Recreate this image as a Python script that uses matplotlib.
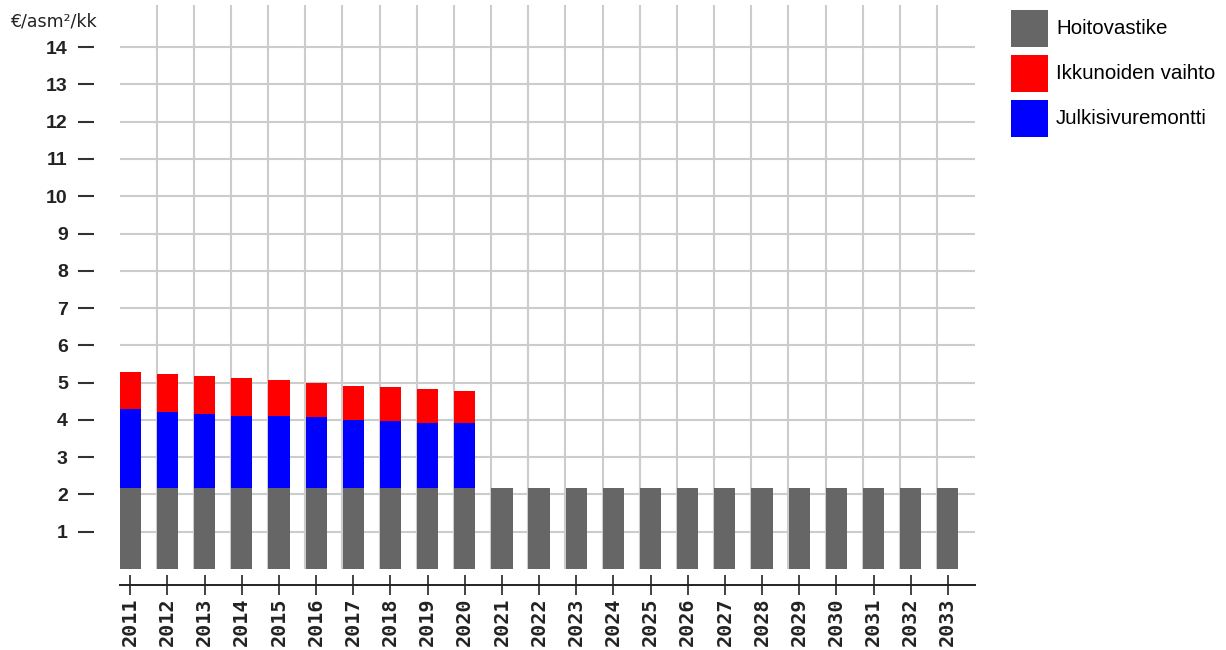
import matplotlib
matplotlib.use("Agg")
import matplotlib.pyplot as plt
import numpy as np
from matplotlib.patches import Patch

years = [str(y) for y in range(2011, 2034)]
hoitovastike = [2.17] * 23
julkisivuremontti = [2.11, 2.05, 2.00, 1.94, 1.94, 1.90, 1.84, 1.80, 1.74, 1.74] + [0] * 13
ikkunoiden_vaihto = [1.01, 1.02, 1.01, 1.02, 0.97, 0.91, 0.91, 0.91, 0.92, 0.87] + [0] * 13
y_ticks = list(range(1, 15))

C_GREY = "#666666"
C_RED = "#ff0000"
C_BLUE = "#0000ff"

DPI = 100
fig = plt.figure(figsize=(12.26, 6.5), dpi=DPI)
W, H = 1226, 650
ax = fig.add_axes([119.5 / W, 1 - 569 / H, (975 - 119.5) / W, (569 - 5) / H])

x = np.arange(len(years))
bw = 0.57
h = np.array(hoitovastike)
j = np.array(julkisivuremontti)
r = np.array(ikkunoiden_vaihto)
ax.bar(x, h, width=bw, color=C_GREY, zorder=3, linewidth=0)
ax.bar(x, j, width=bw, bottom=h, color=C_BLUE, zorder=3, linewidth=0)
ax.bar(x, r, width=bw, bottom=h + j, color=C_RED, zorder=3, linewidth=0)

ax.set_xlim(-0.29, 22.73)
ax.set_ylim(0, 15.13)

# grid: horizontal at unit steps, vertical at category boundaries
ax.set_yticks(y_ticks)
ax.set_xticks(x)
ax.grid(False)
for yv in y_ticks:
    ax.axhline(yv, color="#cccccc", lw=1.5, zorder=1)
for xv in x[1:] - 0.29:
    ax.axvline(xv, color="#cccccc", lw=1.5, zorder=1)

for s in ["top", "right", "left"]:
    ax.spines[s].set_visible(False)
ax.spines["left"].set_position(("outward", 26 * 72 / DPI))
ax.spines["bottom"].set_position(("outward", 16 * 72 / DPI))
ax.spines["bottom"].set_linewidth(1.4)
ax.spines["bottom"].set_color("#222222")

ax.tick_params(axis="y", which="major", direction="out", length=16 * 72 / DPI,
               width=1.5, color="#333333", pad=7)
ax.tick_params(axis="x", which="major", direction="inout", length=20 * 72 / DPI,
               width=1.2, color="#222222", pad=1.5)

ax.set_yticklabels([str(v) for v in y_ticks], fontsize=14, fontweight="bold",
                   family="Liberation Sans", color="#222222")
ax.set_xticklabels(years, rotation=90, fontsize=14.5, fontweight="bold",
                   family="DejaVu Sans Mono", color="#222222")

fig.text(10 / W, 1 - 22 / H, "€/asm²/kk", fontsize=12.5, family="DejaVu Sans",
         va="center", ha="left", color="#222222")

handles = [Patch(facecolor=C_GREY, edgecolor="none"),
           Patch(facecolor=C_RED, edgecolor="none"),
           Patch(facecolor=C_BLUE, edgecolor="none")]
labels = ["Hoitovastike", "Ikkunoiden vaihto", "Julkisivuremontti"]
fs = 14.8
fpx = fs * DPI / 72
sq_w, sq_h = 37, 37
hh = (sq_h / fpx - 0.245) / 0.65
fig.legend(handles, labels, loc="upper left",
           bbox_to_anchor=(1011 / W, 1 - 9.5 / H), bbox_transform=fig.transFigure,
           frameon=False, prop={"family": "Liberation Sans", "size": fs},
           handlelength=sq_w / fpx, handleheight=hh, handletextpad=8 / fpx,
           labelspacing=8 / fpx, borderpad=0, borderaxespad=0)

fig.savefig("out.png", dpi=DPI)
